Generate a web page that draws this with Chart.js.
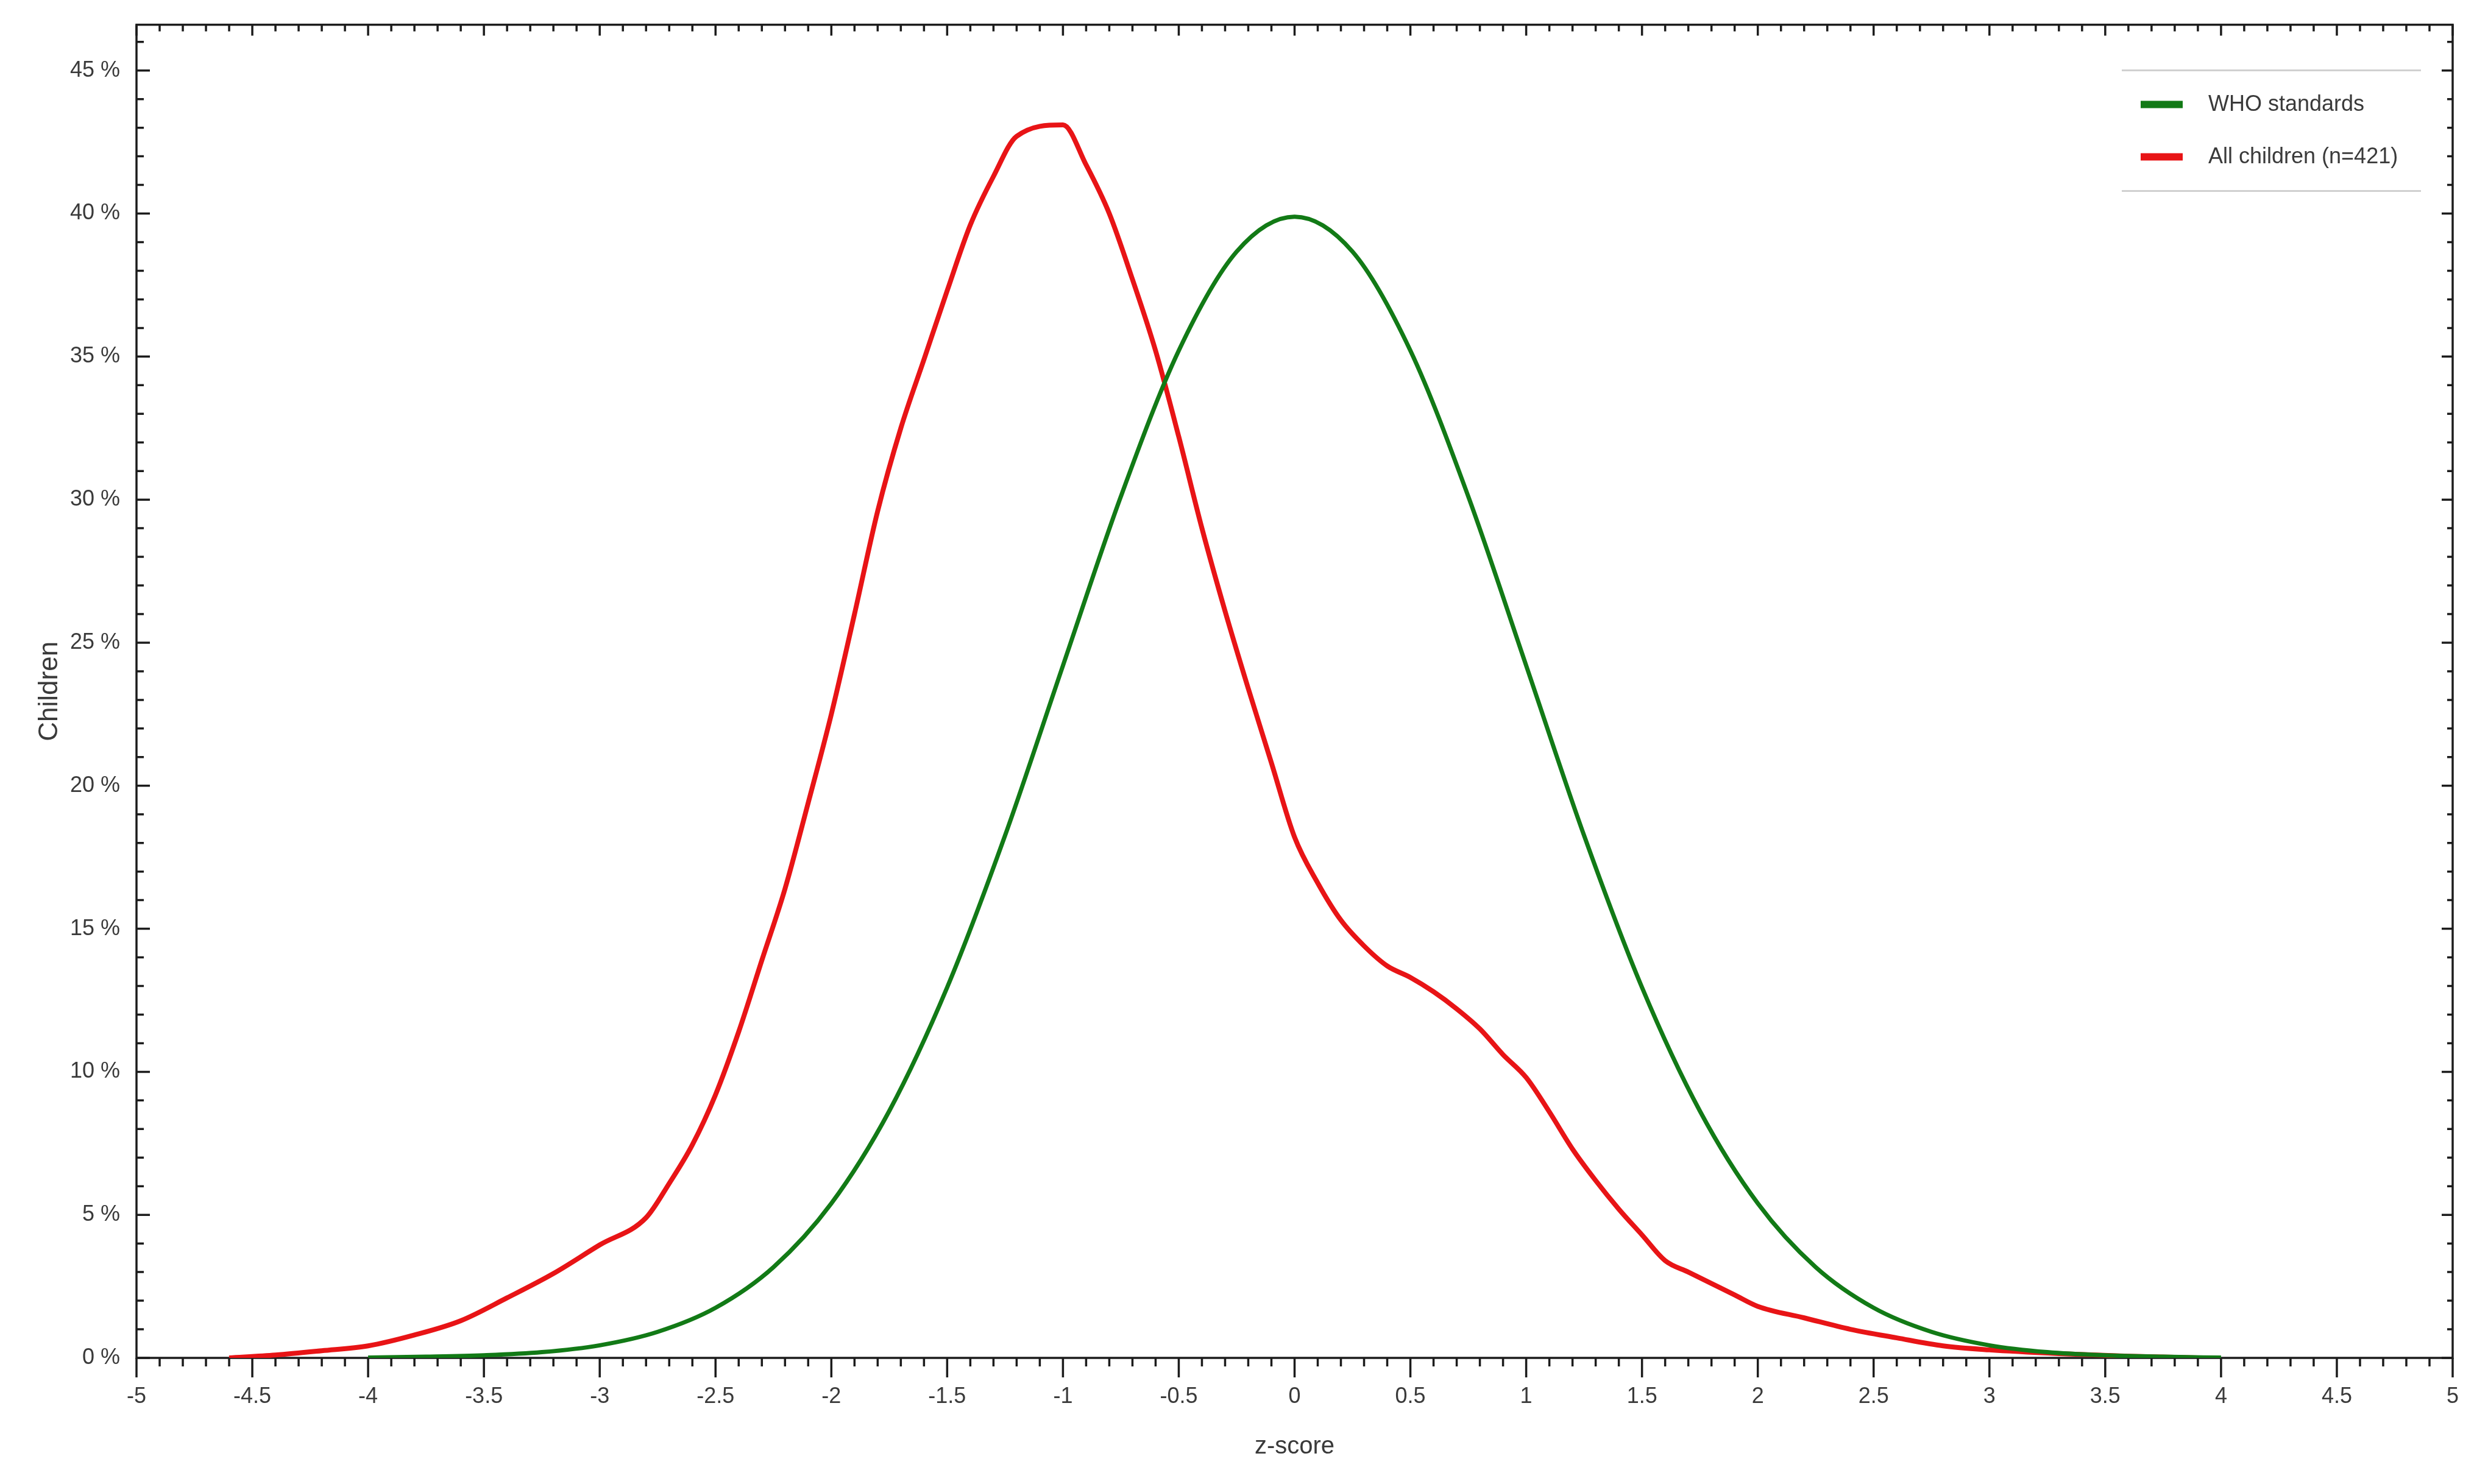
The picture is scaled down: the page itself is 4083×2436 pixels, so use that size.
<!DOCTYPE html>
<html>
<head>
<meta charset="utf-8">
<script src="https://cdn.jsdelivr.net/npm/chart.js@4/dist/chart.umd.min.js"></script>
<style>
  html, body { margin: 0; padding: 0; background: #fff; }
  canvas { display: block; }
</style>
</head>
<body>
<canvas id="zChart" width="4083" height="2436"></canvas>
<script>
// WHO reference curve (z-score, % of children)
const zWho = [-4, -3.75, -3.5, -3.25, -3, -2.75, -2.5, -2.25, -2, -1.75, -1.5, -1.25, -1, -0.75, -0.5, -0.25,
              0, 0.25, 0.5, 0.75, 1, 1.25, 1.5, 1.75, 2, 2.25, 2.5, 2.75, 3, 3.25, 3.5, 3.75, 4];
const pctWho = [0.01, 0.04, 0.09, 0.2, 0.44, 0.91, 1.75, 3.17, 5.4, 8.63, 12.95, 18.26, 24.2, 30.11, 35.21, 38.67,
                39.89, 38.67, 35.21, 30.11, 24.2, 18.26, 12.95, 8.63, 5.4, 3.17, 1.75, 0.91, 0.44, 0.2, 0.09, 0.04, 0.01];

// All children (n=421)
const zAll = [-4.6, -4.4, -4.2, -4.0, -3.8, -3.6, -3.4, -3.2, -3.0, -2.8, -2.7, -2.6, -2.5, -2.4, -2.3, -2.2, -2.1,
              -2.0, -1.9, -1.8, -1.7, -1.6, -1.5, -1.4, -1.3, -1.2, -1.0, -0.9, -0.8, -0.7, -0.6, -0.5, -0.4, -0.3,
              -0.2, -0.1, 0.0, 0.1, 0.2, 0.3, 0.4, 0.5, 0.6, 0.7, 0.8, 0.9, 1.0, 1.1, 1.2, 1.3, 1.4, 1.5, 1.6,
              1.7, 1.8, 1.9, 2.0, 2.2, 2.4, 2.6, 2.8, 3.0, 3.3, 3.6, 3.9];
const pctAll = [0.0, 0.1, 0.25, 0.42, 0.8, 1.3, 2.1, 2.95, 3.95, 4.9, 6.1, 7.45, 9.2, 11.4, 13.9, 16.4, 19.4,
                22.5, 26.0, 29.6, 32.5, 34.9, 37.3, 39.6, 41.3, 42.7, 43.1, 41.7, 40.0, 37.7, 35.2, 32.2, 29.0, 26.1,
                23.4, 20.8, 18.2, 16.6, 15.3, 14.4, 13.7, 13.3, 12.8, 12.2, 11.5, 10.6, 9.8, 8.6, 7.3, 6.2, 5.2, 4.3, 3.4,
                3.0, 2.6, 2.2, 1.8, 1.4, 1.0, 0.7, 0.42, 0.28, 0.15, 0.06, 0.0];

const seriesLabels = ['WHO standards', 'All children (n=421)'];
const seriesColors = ['rgb(18,122,22)', 'rgb(232,20,22)'];

const xMin = -5, xMax = 5, yMin = 0, yMax = 46.6;
const tickFont = { family: '"Liberation Sans", Arial, sans-serif', size: 36 };
const textColor = '#3a3a3a';

// Box frame with major/minor ticks on all four sides
const frameTicks = {
  id: 'frameTicks',
  beforeDatasetsDraw(chart) {
    const { ctx, chartArea: a, scales: { x, y } } = chart;
    ctx.save();
    ctx.strokeStyle = '#1c1c1c';
    ctx.lineWidth = 3.5;
    ctx.strokeRect(a.left, a.top, a.right - a.left, a.bottom - a.top);
    ctx.beginPath();
    for (let i = xMin * 10; i <= xMax * 10; i++) {
      const px = x.getPixelForValue(i / 10);
      const major = i % 5 === 0;
      ctx.moveTo(px, a.bottom);
      ctx.lineTo(px, a.bottom + (major ? 32 : 14));
      ctx.moveTo(px, a.top);
      ctx.lineTo(px, a.top + (major ? 18 : 11));
    }
    for (let v = 0; v <= Math.floor(yMax); v++) {
      const py = y.getPixelForValue(v);
      const major = v % 5 === 0;
      ctx.moveTo(a.left, py);
      ctx.lineTo(a.left + (major ? 22 : 12), py);
      ctx.moveTo(a.right, py);
      ctx.lineTo(a.right - (major ? 18 : 9), py);
    }
    ctx.stroke();
    ctx.restore();
  }
};

// Legend box inside the plot, top right
const insideLegend = {
  id: 'insideLegend',
  afterDraw(chart) {
    const { ctx, chartArea: a } = chart;
    const left = a.right - 543, right = a.right - 52;
    const top = a.top + 75, bottom = a.top + 273;
    ctx.save();
    ctx.fillStyle = '#fff';
    ctx.fillRect(left, top, right - left, bottom - top);
    ctx.strokeStyle = '#d0d0d0';
    ctx.lineWidth = 3;
    ctx.beginPath();
    ctx.moveTo(left, top); ctx.lineTo(right, top);
    ctx.moveTo(left, bottom); ctx.lineTo(right, bottom);
    ctx.stroke();
    ctx.font = `${tickFont.size}px ${tickFont.family}`;
    ctx.textBaseline = 'middle';
    chart.data.datasets.forEach((ds, i) => {
      const cy = a.top + 131 + i * 86;
      ctx.strokeStyle = ds.borderColor;
      ctx.lineWidth = 12;
      ctx.beginPath();
      ctx.moveTo(left + 31, cy);
      ctx.lineTo(left + 100, cy);
      ctx.stroke();
      ctx.fillStyle = textColor;
      ctx.fillText(ds.label, left + 142, cy);
    });
    ctx.restore();
  }
};

new Chart(document.getElementById('zChart'), {
  type: 'line',
  data: {
    datasets: [
      {
        label: seriesLabels[0],
        data: zWho.map((z, i) => ({ x: z, y: pctWho[i] })),
        borderColor: seriesColors[0],
        borderWidth: 7,
        pointRadius: 0,
        cubicInterpolationMode: 'monotone',
        fill: false
      },
      {
        label: seriesLabels[1],
        data: zAll.map((z, i) => ({ x: z, y: pctAll[i] })),
        borderColor: seriesColors[1],
        borderWidth: 8,
        pointRadius: 0,
        cubicInterpolationMode: 'monotone',
        fill: false
      }
    ]
  },
  options: {
    responsive: false,
    animation: false,
    layout: { padding: { top: 36, right: 58, left: 0, bottom: 0 } },
    scales: {
      x: {
        type: 'linear',
        min: xMin,
        max: xMax,
        grid: { display: false },
        border: { display: false },
        ticks: {
          stepSize: 0.5,
          padding: 34,
          maxRotation: 0,
          autoSkip: false,
          color: textColor,
          font: tickFont,
          callback: v => String(Math.round(v * 10) / 10)
        },
        title: {
          display: true,
          text: 'z-score',
          color: textColor,
          font: { family: tickFont.family, size: 40 },
          padding: { top: 0, bottom: 37 }
        },
        afterFit: s => { s.height = 207; }
      },
      y: {
        min: yMin,
        max: yMax,
        grid: { display: false },
        border: { display: false },
        afterBuildTicks: s => { s.ticks = s.ticks.filter(t => t.value % 5 === 0); },
        ticks: {
          stepSize: 5,
          padding: 19,
          color: textColor,
          font: tickFont,
          callback: v => v + ' %'
        },
        title: {
          display: true,
          text: 'Children',
          color: textColor,
          font: { family: tickFont.family, size: 44 },
          padding: { top: 55, bottom: 0 }
        },
        afterFit: s => { s.width = 224; }
      }
    },
    plugins: {
      legend: { display: false },
      tooltip: { enabled: false }
    }
  },
  plugins: [frameTicks, insideLegend]
});
</script>
</body>
</html>
